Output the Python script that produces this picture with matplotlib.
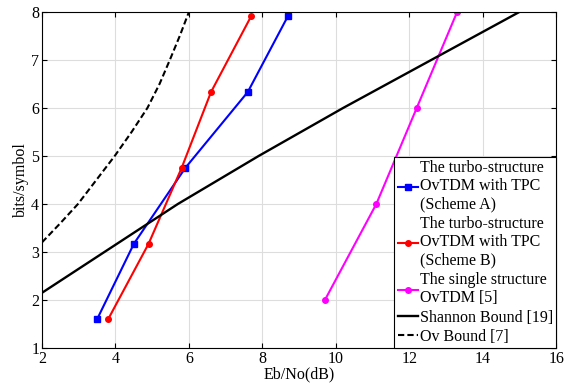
import matplotlib
matplotlib.use("Agg")
import matplotlib.pyplot as plt
import numpy as np

# Curves
scheme_a_x = [3.5, 4.5, 5.9, 7.6, 8.7]
scheme_a_y = [1.6, 3.17, 4.75, 6.33, 7.92]
scheme_b_x = [3.8, 4.9, 5.8, 6.6, 7.7]
scheme_b_y = [1.6, 3.17, 4.75, 6.33, 7.92]
single_x = [9.7, 11.1, 12.2, 13.3]
single_y = [2, 4, 6, 8]
shannon_x = [2.0, 3.7, 5.7, 7.9, 10.2, 12.6, 15.0]
shannon_y = [2.15, 3, 4, 5, 6, 7, 8]
ov_x = [2.0, 2.25, 2.5, 2.98, 3.48, 3.98, 4.44, 4.87, 5.2, 5.48, 5.75, 6.0]
ov_y = [3.2, 3.4, 3.6, 4, 4.5, 5, 5.5, 6, 6.5, 7, 7.5, 8]

plt.rcParams['font.family'] = ['Liberation Serif', 'DejaVu Serif']

fig = plt.figure(figsize=(5.64, 3.86), dpi=100)
ax = fig.add_axes([0.0745, 0.0984, 0.912, 0.871])

ax.plot(scheme_a_x, scheme_a_y, color="blue", marker="s", ms=4, lw=1.5,
        label="The turbo-structure\nOvTDM with TPC\n(Scheme A)")
ax.plot(scheme_b_x, scheme_b_y, color="red", marker="o", ms=4, lw=1.5,
        label="The turbo-structure\nOvTDM with TPC\n(Scheme B)")
ax.plot(single_x, single_y, color="magenta", marker="o", ms=4, lw=1.5,
        label="The single structure\nOvTDM [5]")
ax.plot(shannon_x, shannon_y, color="black", lw=1.7, label="Shannon Bound [19]")
ax.plot(ov_x, ov_y, color="black", ls=(0, (3, 1.5)), lw=1.5, label="Ov Bound [7]")

ax.set_xlim(2, 16)
ax.set_ylim(1, 8)
ax.set_xticks(np.arange(2, 17, 2))
ax.set_yticks(np.arange(1, 9, 1))
ax.grid(True, color="#dddddd", lw=0.8)
ax.tick_params(direction="in", top=True, right=True, labelsize=11.5, pad=2)
ax.set_xlabel("Eb/No(dB)", fontsize=11.5, labelpad=0)
ax.set_ylabel("bits/symbol", fontsize=11.5, labelpad=2)

leg = ax.legend(loc="lower right", fontsize=11.5, labelspacing=0.2,
                handlelength=1.3, handletextpad=0.1, borderpad=0.2,
                borderaxespad=0, fancybox=False, edgecolor="black",
                framealpha=1)
leg.get_frame().set_linewidth(0.8)

fig.savefig("out.png", dpi=100)
